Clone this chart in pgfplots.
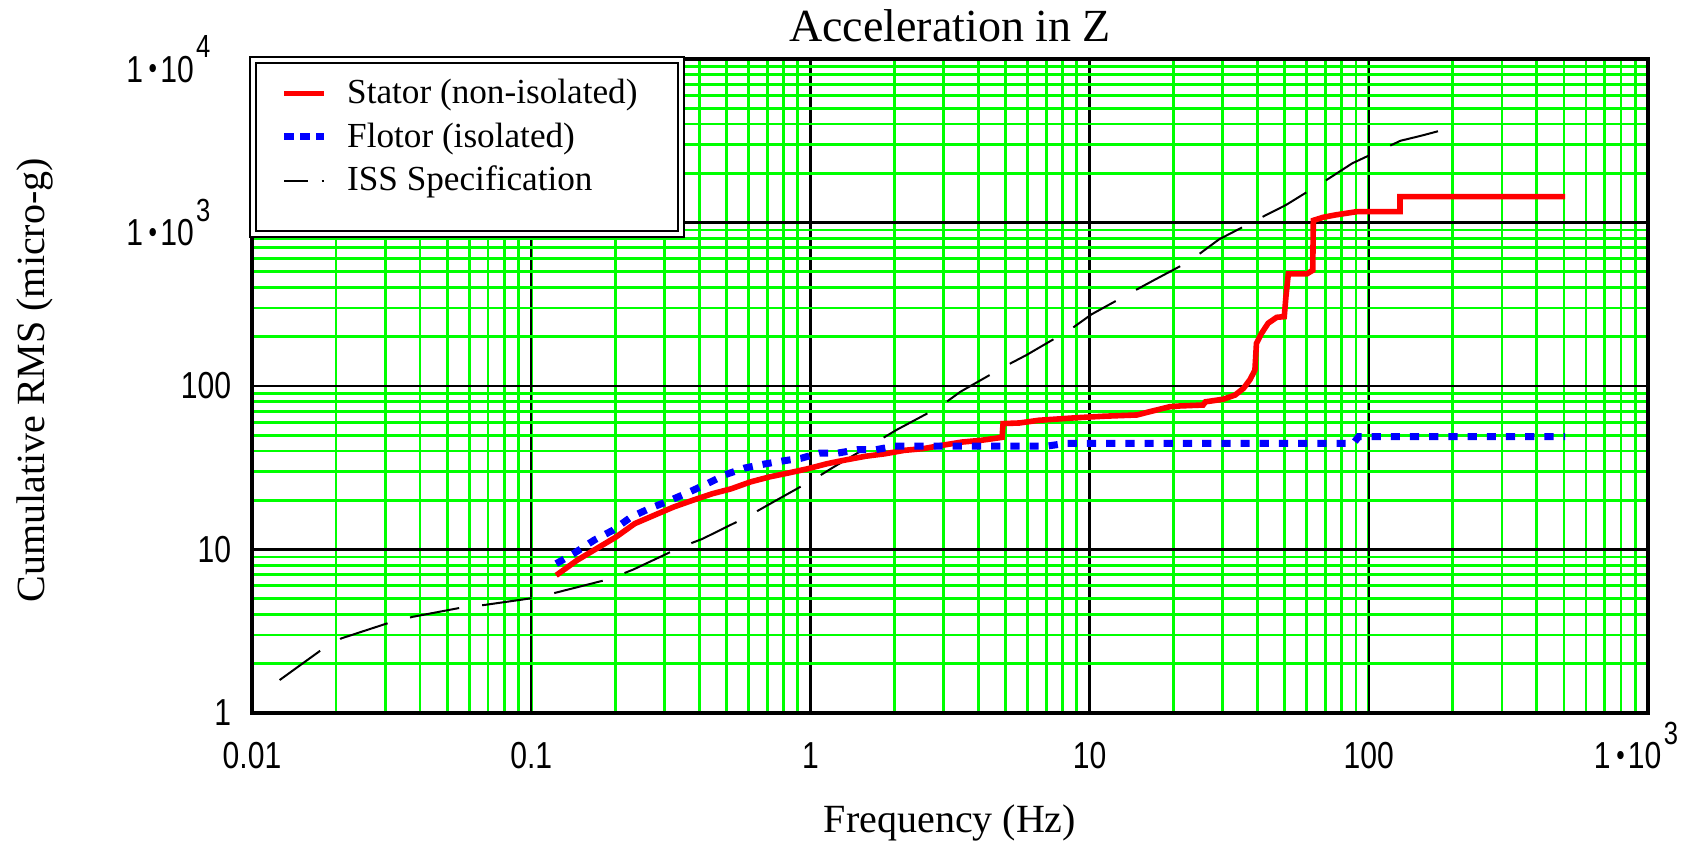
\documentclass[border=0pt]{standalone}
\usepackage{pgfplots}
\pgfplotsset{compat=1.18}
\usepackage{fontspec}
\setmainfont{Liberation Serif}
\newfontfamily\tickfont[FakeStretch=0.8]{Liberation Sans}
\definecolor{grn}{RGB}{0,255,0}
\newcommand{\expo}[1]{1\kern1.4pt\raisebox{0.9pt}{\fontsize{7.5}{7.5}\selectfont\textbullet}\kern0.8pt10\kern0.6pt\raisebox{6.2pt}{\fontsize{8}{8}\selectfont #1}}
\begin{document}
\begin{tikzpicture}
\begin{axis}[
  at={(0,0)}, anchor=south west,
  scale only axis, width=349pt, height=163.5pt,
  xmode=log, ymode=log, xmin=0.01, xmax=1000, ymin=1, ymax=10000,
  xtick={0.01,0.1,1,10,100,1000},
  xticklabels={0.01,0.1,1,10,100,\expo{3}\kern6pt},
  ytick={1,10,100,1000,10000},
  yticklabels={1,10,100,\expo{3}\kern5.2pt,\expo{4}\kern5.2pt},
  ticklabel style={font=\tickfont\fontsize{9.4}{11}\selectfont, inner sep=0pt},
  xticklabel style={anchor=base, yshift=-14pt},
  yticklabel style={anchor=east, xshift=-5pt},
  grid=both,
  major grid style={black, line width=0.6pt},
  minor grid style={grn, line width=0.7pt},
  major tick length=0pt, minor tick length=0pt,
  axis line style={line width=0.9pt},
  title={Acceleration in Z},
  every axis title/.style={at={(axis description cs:0.5,1.0263)}, anchor=base, inner sep=0pt, font=\fontsize{11.5}{13}\selectfont},
  xlabel={Frequency (Hz)},
  every axis x label/.style={at={(axis description cs:0.5,-0.1829)}, anchor=base, inner sep=0pt, font=\fontsize{10}{12}\selectfont},
  ylabel={Cumulative RMS (micro-g)},
  every axis y label/.style={at={(axis description cs:-0.1554,0.5086)}, rotate=90, anchor=center, inner sep=0pt, font=\fontsize{10}{12}\selectfont},
  legend image code/.code={\draw[#1] (0pt,0pt) -- (10pt,0pt);},
  legend style={at={(rel axis cs:0,1)}, anchor=north west,
    draw=black, line width=0.5pt, double=white, double distance=1pt,
    fill=white, font=\fontsize{8.8}{10}\selectfont,
    inner xsep=7pt, inner ysep=4.3pt, row sep=2.8pt, column sep=4.8pt,
    nodes={inner sep=0pt}},
  legend cell align=left,
]
\addplot[black, line width=0.5pt, dash pattern=on 12.5pt off 5.8pt, forget plot] coordinates {
(0.01256,1.59) (0.01748,2.39) (0.0209,2.86) (0.0314,3.59) (0.0378,3.88) (0.0586,4.47)
(0.0682,4.58) (0.1058,5.1) (0.1265,5.52) (0.191,6.6) (0.2317,7.53) (0.3446,10.36)
(0.410,11.6) (0.600,16.0) (0.708,18.8) (1.03,26.9) (1.225,32.3) (1.74,45.9) (2.04,54.0)
(2.91,74.7) (3.45,92.3) (5.02,133) (5.95,154.8) (8.58,223) (10.17,274.5) (14.5,383)
(17.05,445) (21.1,540) (24.9,648) (29.1,789) (42.9,1111) (50.5,1279) (70.6,1820)
(87.3,2302) (130,3163) (154.5,3397) (208,3890)
};
\addplot[red, line width=1.4pt, forget plot] coordinates {
(0.1229,6.95) (0.146,8.59) (0.171,10.1) (0.201,11.9) (0.235,14.4) (0.276,16.2)
(0.324,18.2) (0.379,20.0) (0.444,21.9) (0.52,23.5) (0.61,25.9) (0.714,27.8)
(0.837,29.4) (0.98,31.2) (1.15,33.5) (1.35,35.4) (1.58,37.2) (1.85,38.5) (2.17,40.4)
(2.54,41.4) (2.97,43.4) (3.49,45.4) (4.08,46.5) (4.86,48.5) (4.9,58.9) (5.61,59.4)
(6.58,61.7) (9.03,64) (11.2,65.3) (14.8,66.5) (16.4,69.6) (19.4,74.7) (21.1,75.5)
(25.5,76.5) (26,80) (30.1,83) (33.2,88) (35.6,96.8) (37.5,109) (39.1,125) (39.6,182)
(41.3,210) (43.6,242) (46.8,263) (49.8,265.5) (50.5,352) (51.5,485) (60,485) (63,510)
(63.3,1030) (68.7,1076) (75.7,1111) (90.5,1164) (129.4,1164) (129.4,1440) (505,1440)
};
\addplot[blue, line width=1.75pt, dash pattern=on 2.3pt off 2.5pt, forget plot] coordinates {
(0.1229,8.19) (0.143,9.52) (0.168,11.4) (0.196,13.1) (0.228,15.8) (0.267,17.9)
(0.311,19.8) (0.363,22.2) (0.426,25.2) (0.496,28.7) (0.582,31.5) (0.677,33.2)
(0.795,34.8) (0.924,36.1) (1.08,38.9) (1.256,38.9) (1.48,40.8) (1.72,40.8) (2.0,42.8)
(7.0,42.8) (8.15,44.5) (88,44.5) (92,49) (505,49)
};
\addlegendimage{red, line width=1.4pt}
\addlegendentry{\rule[-2pt]{0pt}{8.6pt}Stator (non-isolated)\hspace*{3.9pt}}
\addlegendimage{blue, line width=1.75pt, dash pattern=on 2.5pt off 1.5pt}
\addlegendentry{\rule[-2pt]{0pt}{8.6pt}Flotor (isolated)}
\addlegendimage{black, line width=0.5pt, dash pattern=on 5.8pt off 3.5pt}
\addlegendentry{\rule[-2pt]{0pt}{8.6pt}ISS Specification}
\addlegendimage{empty legend}
\addlegendentry{\rule{0pt}{0.8pt}}
\end{axis}
\pgfresetboundingbox
\useasboundingbox (-63pt,-33pt) rectangle (358.5pt,178.25pt);
\end{tikzpicture}
\end{document}
